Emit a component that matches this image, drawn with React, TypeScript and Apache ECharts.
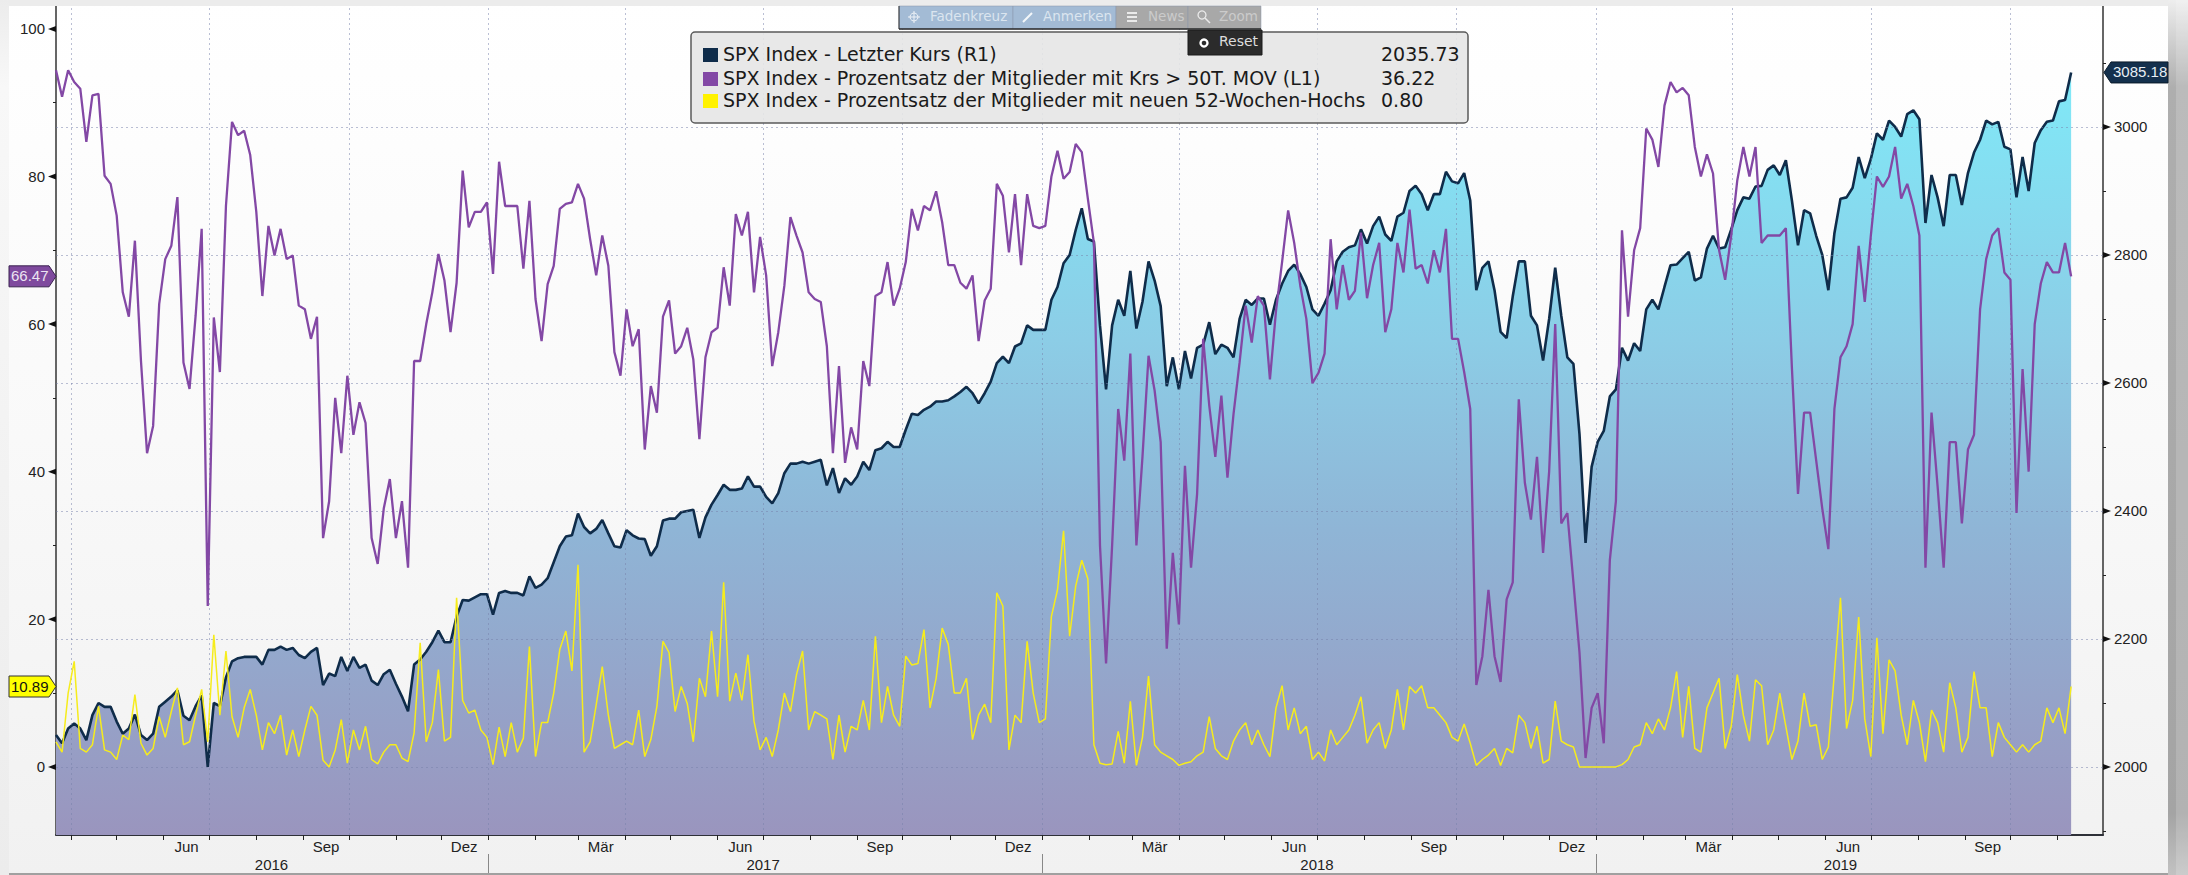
import React, { useEffect, useRef } from "react";
import * as echarts from "echarts";

const START = "2016-03-21";
const AXIS_END = "2019-11-30";
const STEP_DAYS = 4;

const priceValues = [
  2050,2037,2060,2068,2060,2042,2081,2100,2094,2094,
  2071,2052,2060,2082,2050,2042,2052,2094,2102,2110,
  2120,2080,2073,2095,2112,2000,2100,2095,2140,2165,
  2170,2172,2172,2172,2160,2183,2183,2188,2183,2186,
  2175,2170,2180,2186,2128,2146,2142,2172,2150,2172,
  2155,2160,2135,2128,2145,2152,2130,2110,2087,2160,
  2168,2180,2195,2213,2195,2195,2235,2261,2260,2265,
  2270,2270,2238,2272,2275,2272,2272,2268,2298,2280,
  2285,2295,2320,2345,2360,2362,2396,2375,2365,2372,
  2386,2365,2345,2343,2370,2362,2357,2356,2330,2345,
  2385,2388,2388,2398,2400,2402,2358,2390,2410,2425,
  2441,2433,2433,2435,2454,2438,2438,2422,2412,2428,
  2459,2474,2474,2477,2474,2477,2480,2440,2467,2428,
  2451,2441,2454,2477,2464,2495,2498,2508,2500,2500,
  2527,2552,2550,2558,2563,2571,2571,2573,2579,2586,
  2594,2584,2568,2584,2602,2631,2641,2631,2657,2662,
  2690,2683,2683,2683,2730,2750,2787,2800,2839,2873,
  2825,2821,2690,2590,2690,2730,2705,2775,2685,2727,
  2790,2760,2720,2595,2640,2590,2650,2607,2655,2660,
  2695,2645,2660,2655,2640,2700,2730,2722,2732,2732,
  2691,2730,2755,2775,2785,2770,2750,2715,2705,2724,
  2745,2790,2805,2812,2815,2840,2818,2845,2860,2832,
  2822,2860,2866,2900,2908,2895,2870,2895,2895,2930,
  2915,2912,2928,2885,2745,2780,2790,2745,2680,2670,
  2735,2790,2790,2705,2690,2635,2700,2780,2705,2640,
  2630,2520,2350,2469,2508,2525,2579,2590,2655,2635,
  2662,2650,2715,2730,2715,2750,2784,2785,2795,2805,
  2760,2765,2810,2830,2810,2812,2840,2870,2890,2888,
  2907,2908,2933,2940,2925,2948,2885,2815,2870,2865,
  2830,2800,2745,2834,2888,2890,2905,2953,2920,2950,
  2990,2980,3010,3000,2985,3020,3026,3012,2850,2925,
  2890,2845,2925,2925,2878,2928,2960,2980,3010,3004,
  3008,2969,2965,2890,2953,2900,2975,2995,3008,3010,
  3040,3042,3085.18,
];

const above50Values = [
  94.4,90.8,94.4,92.8,91.9,84.7,91,91.2,80.1,79,
  74.7,64.3,61,71.3,55,42.5,46.2,62.7,68.8,70.6,
  77.2,54.8,51.2,61.1,72.9,21.8,60.9,53.5,76,87.4,
  85.6,86.2,82.9,75.2,63.8,73.3,69.3,72.9,68.8,69.3,
  62.5,62,58,61,31,36,50,42.5,53,45,
  49.4,46.6,31,27.5,35,39,31,36,27,55,
  55,60,64.3,69.5,65.9,58.9,65.6,80.8,73.1,75.2,
  75.2,76.5,66.8,82,76,76,76,67.5,76.7,63.4,
  57.7,65.4,67.9,75.6,76.3,76.5,79,77,71.5,66.6,
  72,67.9,56.2,53,62,57,59.3,43,51.6,48,
  61,63.2,56,57,59.5,55.2,44.4,55.5,58.9,59.5,
  67.7,62.5,74.9,72,75.2,64.3,71.8,66.6,54.3,58.9,
  65.2,74.5,72,69.7,64.3,63.4,63,57,42.5,54.3,
  41.2,46,43,55,51.6,63.8,64.3,68.4,62.5,64.8,
  68.4,75.6,72.7,76,75.4,78,73.8,68,68,65.6,
  64.8,66.6,57.7,63.2,64.8,79,77.4,69.7,77.6,68,
  77.6,73.3,73,73.3,80,83.5,79.7,80.6,84.4,83.3,
  77,71,30,14,30,48.5,41.5,56,30,42,
  55.7,51,44,16,29,19.3,40.8,27,37,58,
  49,42,50.3,39.2,47.8,54.8,62.5,57.5,63.8,62.5,
  52.5,61.8,68.4,75.4,71,65.2,60.7,52,53.4,56,
  71.5,62,68,63.3,64.5,72.4,63.5,68,71,58.9,
  62,71,67,75.5,67.5,68,65.5,70,67,72.9,
  58,58,53.5,48.5,11.1,15,24,15,11.5,22.7,
  25,49.8,38.5,33.5,42,29,40,60,33,34.4,
  25,15.5,1.2,8,10,3.2,28,36,72.7,61,
  70,73,86.5,85,81.3,89.6,92.8,91.4,92,91,
  84,80,83,80.4,70,66,72,79.5,84,80,
  84,71,72,72,72,73,54,37,48,48,
  41.5,35,29.5,48.5,55.5,57,60,70.6,63,72,
  80,78.6,80,84,77,79,76,72,27,48,
  38,27,44,44,33,43,45,62,68.8,72,
  73,67,66,34.4,53.9,40,60,65.5,68.4,67,
  67,71,66.47,
];

const newHighValues = [
  3.4,2,10,14.3,2.5,2,3,8.2,2.3,2,
  1,4.3,3.7,9.8,3.2,1.6,2.5,6.8,4,7.5,
  10.7,3,3.4,7,10.5,3.4,17.9,7,15.7,6.8,
  4,8,10.5,7,2.3,6,4.5,7,1.6,5,
  1.4,5,8.2,7,0.9,0,2.3,6.4,0.5,5,
  2.3,5.5,1,0.4,2,3,3,1.2,0.7,4.6,
  16.8,3.4,6,13.2,3.5,4,22.9,9,7.3,7.7,
  5,4,0.3,5.4,1.4,6,2,3.9,16.3,1.4,
  6,6,10,15.9,18.4,13,27.4,2,3.4,8.4,
  13.6,7,2.5,3,3.5,3,7.7,1.4,3.7,8.2,
  17,15.5,7.5,10.9,8.6,3.4,12,9.5,18.4,9.5,
  25,8.9,12.7,9,15.2,6.2,2.3,4,1.4,5,
  10,7.5,12.5,15.7,5,7.5,7,6.5,1,7,
  2,5.5,5,9,5,17.7,6,10.9,7,5.5,
  15,13.8,14,18.6,8,12,18.8,16.6,10,10,
  12,3.7,7,8.5,6,23.6,21.8,2.3,7,6,
  17,10,6,6.5,20.4,24,32,17.7,24.5,28,
  25.5,3,0.5,0.3,0.4,4.8,0.5,8.9,0.2,4,
  12.3,3,2,1.5,1,0.2,0.5,0.7,1.5,2,
  6.8,2.5,1.5,1,3.5,5,6,3,5,3,
  1.4,8,11,5,8,4.5,5.5,1,2,0.8,
  5,3,4,5,7,9.5,3.2,5,6,2.5,
  5,10.5,5,10.9,10,11,8,8,7,6,
  4,3.5,5.8,3.2,0.2,1,1.6,2.5,0.2,2.5,
  1.9,7,6,2.5,5.5,0.5,1,8.9,3.5,3,
  2.7,0,0,0,0,0,0,0,0.3,1,
  2.7,3,6,4.5,6.5,5,8,12.9,4,10.9,
  2.5,2,8,10,12,2.5,5.5,12.5,7,3.5,
  11.8,11,3,5,10,5.5,1,3.5,10,5.5,
  5.7,1,2.7,12.7,22.9,5.2,9,20.3,6.5,1.4,
  17.5,4.5,14.5,13,7,3,9,6,0.7,7.7,
  6,2,11.4,8,2,4,12.9,8,8,1.4,
  6,4,3,2,3,2,3,3.5,8,6,
  8,4.5,10.89,
];

const leftLabels = [0, 20, 40, 60, 80, 100];
const leftTicks = [0, 10, 20, 30, 40, 50, 60, 70, 80, 90, 100];
const rightLabels = [2000, 2200, 2400, 2600, 2800, 3000];
const rightTicks = [1900, 2000, 2100, 2200, 2300, 2400, 2500, 2600, 2700, 2800, 2900, 3000, 3100];
const monthEnds = [
  "2016-03-31","2016-04-30","2016-05-31","2016-06-30","2016-07-31","2016-08-31","2016-09-30","2016-10-31","2016-11-30","2016-12-31",
  "2017-01-31","2017-02-28","2017-03-31","2017-04-30","2017-05-31","2017-06-30","2017-07-31","2017-08-31","2017-09-30","2017-10-31","2017-11-30","2017-12-31",
  "2018-01-31","2018-02-28","2018-03-31","2018-04-30","2018-05-31","2018-06-30","2018-07-31","2018-08-31","2018-09-30","2018-10-31","2018-11-30","2018-12-31",
  "2019-01-31","2019-02-28","2019-03-31","2019-04-30","2019-05-31","2019-06-30","2019-07-31","2019-08-31","2019-09-30","2019-10-31",
];
const quarterEnds = [
  "2016-03-31","2016-06-30","2016-09-30","2016-12-31","2017-03-31","2017-06-30","2017-09-30","2017-12-31",
  "2018-03-31","2018-06-30","2018-09-30","2018-12-31","2019-03-31","2019-06-30","2019-09-30",
];
const monthLabels: [string, string][] = [
  ["2016-06-15","Jun"],["2016-09-15","Sep"],["2016-12-15","Dez"],
  ["2017-03-15","Mär"],["2017-06-15","Jun"],["2017-09-15","Sep"],["2017-12-15","Dez"],
  ["2018-03-15","Mär"],["2018-06-15","Jun"],["2018-09-15","Sep"],["2018-12-15","Dez"],
  ["2019-03-15","Mär"],["2019-06-15","Jun"],["2019-09-15","Sep"],
];
const yearLabels: [string, string][] = [
  ["2016-08-10","2016"],["2017-06-30","2017"],["2018-06-30","2018"],["2019-06-10","2019"],
];
const yearEnds = ["2016-12-31","2017-12-31","2018-12-31"];

const legendRows = [
  { color: "#0f2c4a", name: "SPX Index - Letzter Kurs (R1)", value: "2035.73" },
  { color: "#8348a5", name: "SPX Index - Prozentsatz der Mitglieder mit Krs > 50T. MOV (L1)", value: "36.22" },
  { color: "#fff200", name: "SPX Index - Prozentsatz der Mitglieder mit neuen 52-Wochen-Hochs", value: "0.80" },
];

const dayOf = (iso: string) =>
  Math.round((Date.parse(iso + "T00:00:00Z") - Date.parse(START + "T00:00:00Z")) / 86400000);
const toPoints = (vals: number[]) => vals.map((v, i) => [i * STEP_DAYS, v]);

const FONT = "'Liberation Sans', Arial, sans-serif";
const UI_FONT = "'DejaVu Sans', Verdana, sans-serif";
const monthByDay = new Map(monthLabels.map(([d, n]) => [dayOf(d), n]));
const yearByDay = new Map(yearLabels.map(([d, n]) => [dayOf(d), n]));

export default function App() {
  const ref = useRef<HTMLDivElement>(null);
  useEffect(() => {
    const chart = echarts.init(ref.current!, undefined, { renderer: "svg" });
    const xBase = { type: "value", min: 0, max: dayOf(AXIS_END), gridIndex: 0, splitLine: { show: false } };
    const gridDash = { color: "rgba(118,128,170,0.5)", type: [2, 3], width: 1 };
    chart.setOption({
      animation: false,
      grid: { left: 56, right: 85, top: 6, bottom: 40, containLabel: false },
      xAxis: [
        {
          ...xBase,
          position: "bottom",
          axisLine: { show: true, onZero: false, lineStyle: { color: "#2e3038", width: 2 } },
          axisTick: { show: true, length: 5, customValues: monthEnds.map(dayOf), lineStyle: { color: "#222" } },
          axisLabel: {
            show: true,
            customValues: monthLabels.map(([d]) => dayOf(d)),
            formatter: (v: number) => monthByDay.get(v) ?? "",
            margin: 4,
            fontFamily: FONT,
            fontSize: 15,
            color: "#222",
          },
        },
        {
          ...xBase,
          position: "bottom",
          offset: 19,
          axisLine: { show: false, onZero: false },
          axisTick: { show: true, length: 20, customValues: yearEnds.map(dayOf), lineStyle: { color: "#888" } },
          axisLabel: {
            show: true,
            customValues: yearLabels.map(([d]) => dayOf(d)),
            formatter: (v: number) => yearByDay.get(v) ?? "",
            margin: 3,
            fontFamily: FONT,
            fontSize: 15,
            color: "#222",
          },
        },
      ],
      yAxis: [
        {
          type: "value",
          min: -9.23,
          max: 103.1,
          position: "left",
          splitLine: { show: false },
          axisLine: { show: true, onZero: false, lineStyle: { color: "#333", width: 1.5 } },
          axisTick: { show: true, length: 3, customValues: leftTicks, lineStyle: { color: "#222" } },
          axisLabel: { show: true, customValues: leftLabels, margin: 11, fontFamily: FONT, fontSize: 15, color: "#222" },
        },
        {
          type: "value",
          min: 1893.75,
          max: 3189,
          position: "right",
          splitLine: { show: false },
          axisLine: { show: true, onZero: false, lineStyle: { color: "#333", width: 1.5 } },
          axisTick: { show: true, length: 3, customValues: rightTicks, lineStyle: { color: "#222" } },
          axisLabel: {
            show: true,
            customValues: rightLabels,
            formatter: (v: number) => String(v),
            margin: 11,
            fontFamily: FONT,
            fontSize: 15,
            color: "#222",
          },
        },
      ],
      series: [
        {
          type: "line",
          name: "SPX Index - Letzter Kurs (R1)",
          xAxisIndex: 0,
          yAxisIndex: 1,
          data: toPoints(priceValues),
          showSymbol: false,
          z: 2,
          lineStyle: { color: "#0f2c4a", width: 2.6 },
          areaStyle: {
            origin: "start",
            opacity: 1,
            color: new echarts.graphic.LinearGradient(0, 0, 0, 1, [
              { offset: 0, color: "#80e9f8" },
              { offset: 0.35, color: "#8ccde6" },
              { offset: 0.6, color: "#8fb5d6" },
              { offset: 1, color: "#9a95be" },
            ]),
          },
          markLine: {
            silent: true,
            symbol: "none",
            label: { show: false },
            lineStyle: gridDash,
            z: 3,
            data: [
              ...rightLabels.map((v) => ({ yAxis: v })),
              ...quarterEnds.map((d) => ({ xAxis: dayOf(d) })),
            ],
          },
        },
        {
          type: "line",
          name: "SPX Index - Prozentsatz der Mitglieder mit Krs > 50T. MOV (L1)",
          xAxisIndex: 0,
          yAxisIndex: 0,
          data: toPoints(above50Values),
          showSymbol: false,
          z: 4,
          lineStyle: { color: "#8348a5", width: 2.3 },
        },
        {
          type: "line",
          name: "SPX Index - Prozentsatz der Mitglieder mit neuen 52-Wochen-Hochs",
          xAxisIndex: 0,
          yAxisIndex: 0,
          data: toPoints(newHighValues),
          showSymbol: false,
          z: 5,
          lineStyle: { color: "#f6ec1c", width: 1.5 },
        },
      ],
    });

    const yL = (v: number) => chart.convertToPixel({ yAxisIndex: 0 }, v) as number;
    const yR = (v: number) => chart.convertToPixel({ yAxisIndex: 1 }, v) as number;
    const axisL = 56;
    const axisR = 2103;
    const tri = (points: number[][]) => ({ type: "polygon", z: 30, shape: { points }, style: { fill: "#111" } });
    const tag = (y: number, right: boolean, fill: string, color: string, stroke: string, text: string) => {
      const h = 10.5;
      const pts = right
        ? [[axisR + 1, y], [axisR + 8, y - h], [2168, y - h], [2168, y + h], [axisR + 8, y + h]]
        : [[9, y - h], [axisL - 7, y - h], [axisL, y], [axisL - 7, y + h], [9, y + h]];
      return [
        { type: "polygon", z: 40, shape: { points: pts }, style: { fill, stroke, lineWidth: 1 } },
        {
          type: "text",
          z: 41,
          x: right ? axisR + 10 : 11,
          y: y - 8,
          style: { text, fill: color, font: `15px ${FONT}` },
        },
      ];
    };
    const btn = (x: number, w: number, fill: string, text: string, color: string, tx: number) => [
      { type: "rect", z: 60, shape: { x, y: 6, width: w, height: 23 }, style: { fill, stroke: "#8a97a8", lineWidth: 0.5 } },
      { type: "text", z: 61, x: tx, y: 9, style: { text, fill: color, font: `13.5px ${UI_FONT}` } },
    ];
    chart.setOption({
      graphic: [
        { type: "rect", z: 20, shape: { x: 0, y: 0, width: 2168, height: 6 }, style: { fill: "#ececec" } },
        {
          type: "rect",
          z: 20,
          shape: { x: 2168, y: 0, width: 20, height: 875 },
          style: {
            fill: new echarts.graphic.LinearGradient(0, 0, 0, 1, [
              { offset: 0, color: "#eeeeee" },
              { offset: 0.04, color: "#d4d4d4" },
              { offset: 0.1, color: "#aeaeae" },
              { offset: 0.93, color: "#a4a4a4" },
              { offset: 1, color: "#c2c2c2" },
            ]),
          },
        },
        {
          type: "rect",
          z: 21,
          shape: { x: 2176, y: 0, width: 12, height: 875 },
          style: { fill: "rgba(255,255,255,0.16)" },
        },
        { type: "rect", z: 20, shape: { x: 0, y: 873, width: 2168, height: 2 }, style: { fill: "#a0a0a0" } },
        {
          type: "rect",
          z: 20,
          shape: { x: 0, y: 0, width: 9, height: 875 },
          style: {
            fill: new echarts.graphic.LinearGradient(0, 0, 0, 1, [
              { offset: 0, color: "rgba(236,236,236,1)" },
              { offset: 0.1, color: "rgba(248,248,248,1)" },
              { offset: 1, color: "rgba(236,236,236,1)" },
            ]),
          },
        },
        ...leftLabels.map((v) => tri([[axisL, yL(v) - 3], [axisL, yL(v) + 3], [axisL - 8, yL(v)]])),
        ...rightLabels.map((v) => tri([[axisR, yR(v) - 3], [axisR, yR(v) + 3], [axisR + 8, yR(v)]])),
        ...tag(yL(66.47), false, "#7f4a9e", "#ece4f2", "#3a2350", "66.47"),
        ...tag(yL(10.89), false, "#ffff00", "#111", "#333", "10.89"),
        ...tag(yR(3085.18), true, "#14304d", "#e8eef5", "#0a1a2a", "3085.18"),
        // legend box
        { type: "rect", z: 50, shape: { x: 691, y: 32, width: 777, height: 91, r: 4 }, style: { fill: "rgba(230,230,230,0.9)", stroke: "#5a5a5a", lineWidth: 1.5 } },
        ...legendRows.flatMap((r, i) => {
          const cy = [55, 79, 101][i];
          return [
            { type: "rect", z: 51, shape: { x: 703, y: cy - 7, width: 15, height: 14 }, style: { fill: r.color } },
            { type: "text", z: 51, x: 723, y: cy - 11, style: { text: r.name, fill: "#1a1a1a", font: `19px ${UI_FONT}` } },
            { type: "text", z: 51, x: 1381, y: cy - 11, style: { text: r.value, fill: "#1a1a1a", font: `19px ${UI_FONT}` } },
          ];
        }),
        // toolbar
        ...btn(899, 114, "#a3bbd5", "Fadenkreuz", "#dbe5ef", 930),
        ...btn(1013, 103, "#a3bbd5", "Anmerken", "#dbe5ef", 1043),
        ...btn(1116, 72, "#a8a8a8", "News", "#cbcbcb", 1148),
        ...btn(1188, 73, "#a8a8a8", "Zoom", "#cbcbcb", 1219),
        { type: "line", z: 62, shape: { x1: 899, y1: 29, x2: 1261, y2: 29 }, style: { stroke: "#2a2a2a", lineWidth: 1.5 } },
        { type: "line", z: 62, shape: { x1: 899, y1: 6, x2: 899, y2: 29 }, style: { stroke: "#2a2a2a", lineWidth: 1 } },
        { type: "circle", z: 62, shape: { cx: 914, cy: 17, r: 4 }, style: { fill: "none", stroke: "#eef2f7", lineWidth: 1 } },
        { type: "line", z: 62, shape: { x1: 908, y1: 17, x2: 920, y2: 17 }, style: { stroke: "#eef2f7" } },
        { type: "line", z: 62, shape: { x1: 914, y1: 11, x2: 914, y2: 23 }, style: { stroke: "#eef2f7" } },
        { type: "line", z: 62, shape: { x1: 1023, y1: 22, x2: 1032, y2: 13 }, style: { stroke: "#f4f7fa", lineWidth: 2 } },
        { type: "rect", z: 62, shape: { x: 1127, y: 12, width: 10, height: 2 }, style: { fill: "#eaeaea" } },
        { type: "rect", z: 62, shape: { x: 1127, y: 16, width: 10, height: 2 }, style: { fill: "#eaeaea" } },
        { type: "rect", z: 62, shape: { x: 1127, y: 20, width: 10, height: 2 }, style: { fill: "#eaeaea" } },
        { type: "circle", z: 62, shape: { cx: 1202, cy: 15, r: 4 }, style: { fill: "none", stroke: "#eaeaea", lineWidth: 1.3 } },
        { type: "line", z: 62, shape: { x1: 1205, y1: 18, x2: 1210, y2: 23 }, style: { stroke: "#eaeaea", lineWidth: 1.5 } },
        { type: "rect", z: 60, shape: { x: 1188, y: 30, width: 74, height: 25 }, style: { fill: "#2b2b2b", stroke: "#1a1a1a", lineWidth: 1 } },
        { type: "circle", z: 61, shape: { cx: 1204, cy: 43, r: 3.5 }, style: { fill: "none", stroke: "#ffffff", lineWidth: 2.4 } },
        { type: "text", z: 61, x: 1219, y: 34, style: { text: "Reset", fill: "#dddddd", font: `14px ${UI_FONT}` } },
      ],
    });
    return () => chart.dispose();
  }, []);
  return (
    <div
      ref={ref}
      style={{
        position: "absolute",
        left: 0,
        top: 0,
        width: 2188,
        height: 875,
        background: "linear-gradient(#ffffff 0%, #f9f9f9 50%, #f1f1f1 100%)",
      }}
    />
  );
}
